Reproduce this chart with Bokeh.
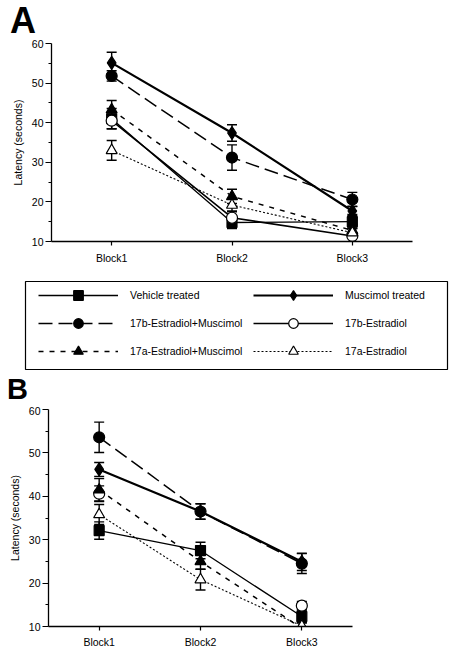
import numpy as np
from bokeh.plotting import figure
from bokeh.models import (FactorRange, Range1d, Whisker, TeeHead, ColumnDataSource,
                          Legend, LegendItem, FixedTicker, Div)
from bokeh.layouts import column
from bokeh.embed import file_html
from bokeh.resources import INLINE

blocks = ["Block1", "Block2", "Block3"]
names = ["Vehicle treated", "Muscimol treated", "17b-Estradiol+Muscimol",
         "17b-Estradiol", "17a-Estradiol+Muscimol", "17a-Estradiol"]

# Panel A: mean latency and SEM per block
a_vehicle = [41.0, 14.8, 15.0]
a_vehicle_err = [2.6, 1.5, 1.8]
a_muscimol = [55.1, 37.4, 17.7]
a_muscimol_err = [2.7, 2.1, 1.2]
a_17b_musc = [51.8, 31.2, 20.6]
a_17b_musc_err = [1.3, 3.2, 1.8]
a_17b = [40.5, 16.0, 11.4]
a_17b_err = [2.0, 1.5, 2.0]
a_17a_musc = [43.3, 21.4, 12.8]
a_17a_musc_err = [2.3, 1.8, 1.5]
a_17a = [33.0, 19.2, 12.2]
a_17a_err = [2.5, 1.5, 1.2]

# Panel B
b_vehicle = [32.1, 27.5, 12.3]
b_vehicle_err = [2.0, 1.9, 1.5]
b_muscimol = [46.2, 36.5, 24.9]
b_muscimol_err = [1.6, 1.8, 2.0]
b_17b_musc = [53.6, 36.5, 24.5]
b_17b_musc_err = [3.5, 1.8, 2.3]
b_17b = [40.6, np.nan, 14.8]
b_17b_err = [1.8, np.nan, 1.0]
b_17a_musc = [41.5, 25.0, 9.6]
b_17a_musc_err = [2.6, 1.8, 1.3]
b_17a = [35.8, 20.8, 10.1]
b_17a_err = [2.3, 2.4, 1.0]

y_ticks = [10, 20, 30, 40, 50, 60]
y_minor = [15, 25, 35, 45, 55]

FONT = "Liberation Sans"
styles = [
    dict(marker="square", fill="black", dash="solid", lw=1.3, size=10),
    dict(marker="diamond", fill="black", dash="solid", lw=2.2, size=13),
    dict(marker="circle", fill="black", dash="14 6", lw=1.5, size=11),
    dict(marker="circle", fill="white", dash="solid", lw=1.6, size=11),
    dict(marker="triangle", fill="black", dash="5 6", lw=1.5, size=11),
    dict(marker="triangle", fill="white", dash="2 2", lw=1.1, size=11),
]


def panel_letter(letter, height, font_px, pad_left):
    return Div(text=letter, width=450, height=height, margin=0,
               styles={"font-family": FONT, "font-size": f"{font_px}px",
                       "font-weight": "bold", "line-height": "normal",
                       "color": "black", "padding-left": f"{pad_left}px",
                       "box-sizing": "border-box"})


def make_panel(means, errs, height, ml, mr, mt, mb, xstand):
    p = figure(x_range=FactorRange(*blocks), y_range=Range1d(10, 60),
               width=450, height=height, output_backend="svg", toolbar_location=None,
               min_border_left=ml, min_border_right=mr, min_border_top=mt,
               min_border_bottom=mb, frame_align=False)
    p.outline_line_color = None
    p.xgrid.visible = False
    p.ygrid.visible = False
    p.yaxis.ticker = FixedTicker(ticks=y_ticks, minor_ticks=y_minor)
    p.yaxis.axis_label = "Latency (seconds)"
    for ax in (p.xaxis[0], p.yaxis[0]):
        ax.axis_line_width = 1.3
        ax.axis_line_color = "black"
        ax.major_tick_line_color = "black"
        ax.major_tick_line_width = 1.2
        ax.major_tick_in = 0
        ax.major_label_text_font = FONT
        ax.major_label_text_font_size = "10.5px"
        ax.major_label_text_color = "black"
        ax.axis_label_text_font = FONT
        ax.axis_label_text_font_size = "10.5px"
        ax.axis_label_text_font_style = "normal"
        ax.axis_label_text_color = "black"
    p.yaxis.major_tick_out = 6
    p.yaxis.minor_tick_out = 3
    p.yaxis.minor_tick_in = 0
    p.yaxis.minor_tick_line_color = "black"
    p.yaxis.major_label_standoff = 2
    p.yaxis.axis_label_standoff = 5
    p.xaxis.major_tick_out = 4
    p.xaxis.major_label_standoff = xstand

    for m, e, st in zip(means, errs, styles):
        y = np.array(m, dtype=float)
        err = np.array(e, dtype=float)
        ok = ~np.isnan(y)
        p.line(x=blocks, y=y, line_color="black", line_width=st["lw"], line_dash=st["dash"])
        src = ColumnDataSource(dict(x=[b for b, k in zip(blocks, ok) if k],
                                    y=y[ok], upper=(y + err)[ok], lower=(y - err)[ok]))
        w = Whisker(source=src, base="x", upper="upper", lower="lower", dimension="height",
                    line_color="black", line_width=1.4,
                    upper_head=TeeHead(size=10, line_width=1.4, line_color="black"),
                    lower_head=TeeHead(size=10, line_width=1.4, line_color="black"))
        p.add_layout(w)
        p.scatter(x="x", y="y", source=src, marker=st["marker"], size=st["size"],
                  fill_color=st["fill"], line_color="black", line_width=1.2)
    return p


div_a = panel_letter("A", 36, 36, 10)
pa = make_panel([a_vehicle, a_muscimol, a_17b_musc, a_17b, a_17a_musc, a_17a],
                [a_vehicle_err, a_muscimol_err, a_17b_musc_err, a_17b_err, a_17a_musc_err, a_17a_err],
                234, 51, 38, 7, 29, 6)

# Legend panel (boxed frame holding the legend)
pl = figure(width=450, height=103, x_range=Range1d(0, 1), y_range=Range1d(0, 1),
            x_axis_type=None, y_axis_type=None, output_backend="svg", toolbar_location=None,
            min_border_left=25, min_border_right=3, min_border_top=11, min_border_bottom=4,
            frame_align=False)
pl.outline_line_color = "black"
pl.outline_line_width = 1.2
items = []
for name, st in zip(names, styles):
    rl = pl.line(x=[0.5], y=[0.5], line_color="black", line_width=st["lw"],
                 line_dash=st["dash"], visible=False)
    rm = pl.scatter(x=[0.5], y=[0.5], marker=st["marker"], size=st["size"],
                    fill_color=st["fill"], line_color="black", line_width=1.2, visible=False)
    items.append(LegendItem(label=name, renderers=[rl, rm]))
leg = Legend(items=items, location=(13, 6), orientation="horizontal", ncols=2,
             glyph_width=80, glyph_height=24, spacing=4, label_standoff=12,
             label_width=119, padding=0, margin=0, border_line_color=None,
             background_fill_alpha=0, label_text_font=FONT,
             label_text_font_size="10.5px", label_text_color="black")
pl.add_layout(leg)

div_b = panel_letter("B", 33, 29, 7)
pb = make_panel([b_vehicle, b_muscimol, b_17b_musc, b_17b, b_17a_musc, b_17a],
                [b_vehicle_err, b_muscimol_err, b_17b_musc_err, b_17b_err, b_17a_musc_err, b_17a_err],
                247, 48, 98, 3, 27, 5)

layout = column(div_a, pa, pl, div_b, pb, spacing=0)
open("out.html", "w").write(file_html(layout, INLINE))
